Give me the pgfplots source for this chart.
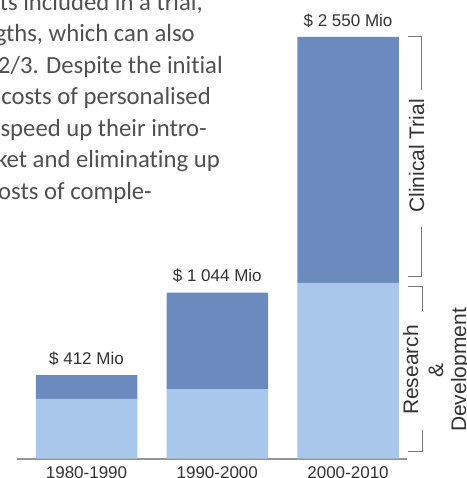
\documentclass[border=0pt]{standalone}
\usepackage{fontspec}
\setmainfont{Liberation Sans}
\newfontfamily\carlito[Ligatures={NoCommon}]{Carlito}
\usepackage{pgfplots}
\pgfplotsset{compat=1.18}
\definecolor{ctblue}{RGB}{107,139,191}
\definecolor{rdblue}{RGB}{169,199,234}
\definecolor{txt}{RGB}{51,51,51}
\definecolor{para}{RGB}{80,80,80}
\definecolor{axgray}{RGB}{150,150,150}
\definecolor{brgray}{RGB}{120,120,120}
\tikzset{vlab/.style={anchor=base, inner sep=0pt, font=\fontsize{17bp}{20bp}\selectfont, text=txt}}
\begin{document}
\begin{tikzpicture}[x=1bp,y=1bp]
\path[use as bounding box] (0,0) rectangle (467,478);
\clip (0,0) rectangle (467,478);
% paragraph text (cut by the picture edge)
\begin{scope}[every node/.style={anchor=base east, inner sep=0pt, font=\carlito\fontsize{24.7bp}{28bp}\selectfont, text=para}]
\node at (203,467.5) {nts included in a trial,};
\node at (195,436) {ngths, which can also};
\node at (223,404.5) {2/3. Despite the initial};
\node at (211,373) {costs of personalised};
\node at (207,341.5) {speed up their intro-};
\node at (220,310) {ket and eliminating up};
\node at (152,278.5) {osts of comple-};
\end{scope}
\begin{axis}[at={(17bp,19.5bp)}, anchor=south west, scale only axis,
  width=390bp, height=421.5bp,
  xmin=-0.5315, xmax=2.451, ymin=0, ymax=2550,
  ybar stacked, bar width=101.5bp,
  axis line style={draw=none},
  xtick=data, xticklabels={1980-1990,1990-2000,2000-2010},
  ytick=\empty, major tick length=0pt,
  xticklabel style={anchor=base, yshift=-19.5bp, font=\fontsize{17bp}{20bp}\selectfont, text=txt},
  clip=false]
\addplot[fill=rdblue, draw=none] coordinates {(0,360) (1,420) (2,1062)};
\addplot[fill=ctblue, draw=none] coordinates {(0,145) (1,583) (2,1488)};
\draw[axgray, line width=2bp] (axis cs:-0.5315,0) -- (axis cs:2.451,0);
\node[vlab, yshift=11bp] at (axis cs:0,505) {\$ 412 Mio};
\node[vlab, yshift=11bp] at (axis cs:1,1003) {\$ 1 044 Mio};
\node[vlab, yshift=10bp] at (axis cs:2,2550) {\$ 2 550 Mio};
\node[vlab, text=white] at (axis cs:2,1703) {\$ 1 500 Mio};
\node[vlab] at (axis cs:2,590) {\$ 1 000 Mio};
\end{axis}
% brackets
\draw[brgray, line width=1bp] (408,441) -- (421,441) -- (421,388);
\draw[brgray, line width=1bp] (421,251) -- (421,201) -- (408,201);
\draw[brgray, line width=1bp] (408,191) -- (422,191) -- (422,167);
\draw[brgray, line width=1bp] (422,48) -- (422,26) -- (408,26);
\begin{scope}[every node/.style={anchor=base, inner sep=0pt, rotate=90, font=\fontsize{21bp}{24bp}\selectfont, text=txt}]
\node at (424,322) {Clinical Trial};
\node at (418,108) {Research};
\node at (443,108) {\&};
\node at (466,108) {Development};
\end{scope}
\end{tikzpicture}
\end{document}
